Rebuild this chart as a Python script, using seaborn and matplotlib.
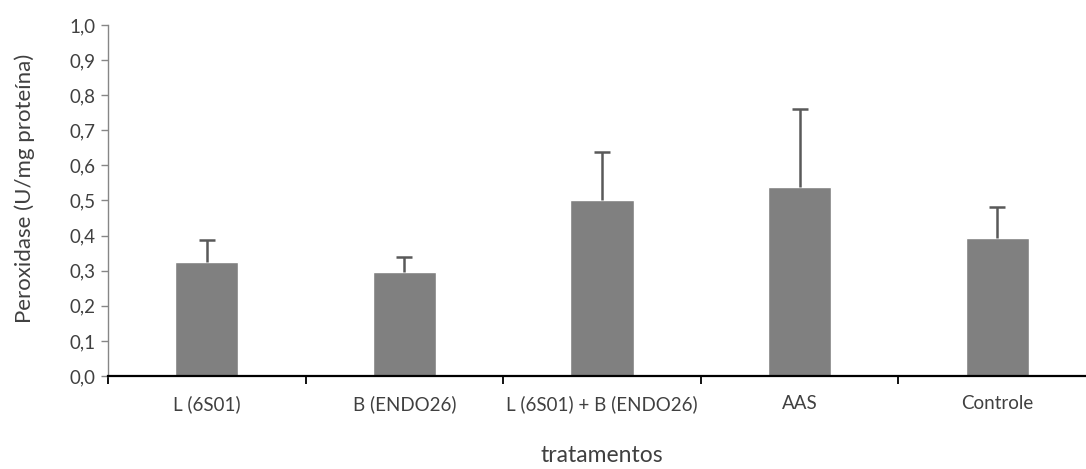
import numpy as np
import pandas as pd
import seaborn as sns
import matplotlib.pyplot as plt
from matplotlib.ticker import FixedLocator, FuncFormatter

categories = ["L (6S01)", "B (ENDO26)", "L (6S01) + B (ENDO26)", "AAS", "Controle"]
means = [0.326, 0.295, 0.501, 0.538, 0.393]
errors = [0.061, 0.045, 0.136, 0.222, 0.088]

df = pd.DataFrame({"tratamento": categories, "peroxidase": means})

sns.set_style("white")
plt.rcParams["font.family"] = ["Lato", "DejaVu Sans"]

fig = plt.figure(figsize=(10.86, 4.69), dpi=100)
ax = fig.add_axes([108 / 1086, 93 / 469, 988 / 1086, 351 / 469])

sns.barplot(data=df, x="tratamento", y="peroxidase", color="#808080",
            saturation=1, width=0.32, errorbar=None, ax=ax)

# upper error only, cap only at the top
xpos = np.arange(len(categories))
tops = np.array(means) + np.array(errors)
ax.vlines(xpos, means, tops, color="#595959", linewidth=1.8, zorder=3)
ax.plot(xpos, tops, linestyle="none", marker="_", markersize=11,
        markeredgewidth=1.8, color="#595959", zorder=3)

ax.set_xlim(-0.5, len(categories) - 0.5)
ax.set_ylim(0, 1.0)
ax.set_yticks(np.arange(0, 1.01, 0.1))
ax.yaxis.set_major_formatter(FuncFormatter(lambda v, p: f"{v:.1f}".replace(".", ",")))

ax.xaxis.set_minor_locator(FixedLocator(np.arange(-0.5, len(categories), 1.0)))
ax.tick_params(axis="x", which="major", length=0, pad=14, labelsize=13.5, colors="#404040")
ax.tick_params(axis="x", which="minor", length=6, width=1.3, color="black", bottom=True)
ax.tick_params(axis="y", length=5, width=1, color="#868686", left=True, pad=4,
               labelsize=13.5, labelcolor="#404040")

for s in ["top", "right"]:
    ax.spines[s].set_visible(False)
ax.spines["left"].set_color("#868686")
ax.spines["left"].set_linewidth(1)
ax.spines["bottom"].set_color("black")
ax.spines["bottom"].set_linewidth(1.6)

ax.set_xlabel("tratamentos", fontsize=16.5, color="#404040")
ax.set_ylabel("Peroxidase (U/mg proteína)", fontsize=16, color="#404040")
ax.xaxis.set_label_coords(0.5, -0.196)
ax.yaxis.set_label_coords(-0.074, 0.535)

fig.savefig("out.png", dpi=100)
